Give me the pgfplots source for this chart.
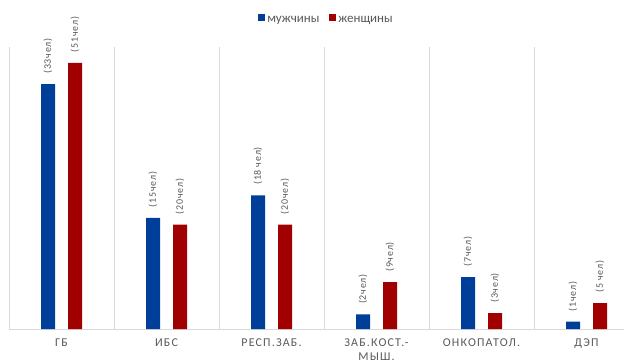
\documentclass[border=0pt]{standalone}
\usepackage{fontspec}
\setmainfont{Carlito}
\newfontfamily\lsfont[LetterSpace=10]{Carlito}
\newfontfamily\lbfont[LetterSpace=8]{Carlito}
\usepackage{pgfplots}
\usepackage{pgfplotstable}
\pgfplotsset{compat=1.18}
\definecolor{cblue}{RGB}{0,63,153}
\definecolor{cred}{RGB}{160,0,0}
\definecolor{ctext}{RGB}{89,89,89}
\definecolor{cgrid}{RGB}{217,217,217}
\pgfplotstableread[col sep=comma]{
x,y,lab
0,43.4,(33чел)
1,19.7,(15чел)
2,23.7,(18 чел)
3,2.6,(2чел)
4,9.2,(7чел)
5,1.3,(1чел)
}\men
\pgfplotstableread[col sep=comma]{
x,y,lab
0,47.2,(51чел)
1,18.5,(20чел)
2,18.5,(20чел)
3,8.3,(9чел)
4,2.8,(3чел)
5,4.6,(5 чел)
}\women
\begin{document}
\begin{tikzpicture}
\useasboundingbox (-9bp,-34bp) rectangle (615bp,329bp);
\begin{axis}[
  anchor=south west, at={(0,0)},
  scale only axis, width=615bp, height=282bp,
  xmin=-0.5, xmax=5.357, ymin=0, ymax=50,
  axis x line*=bottom, axis y line=none,
  x axis line style={draw=cgrid, line width=0.8pt},
  xtick={0,1,2,3,4,5},
  xticklabels={ГБ,ИБС,РЕСП.ЗАБ.,ЗАБ.КОСТ.-\\МЫШ.,ОНКОПАТОЛ.,ДЭП},
  xticklabel style={font=\lsfont\fontsize{12}{14}\selectfont, text=ctext, align=center, anchor=north, yshift=-6bp},
  major tick length=0pt, minor tick length=0pt,
  minor xtick={-0.5,0.5,1.5,2.5,3.5,4.5},
  xminorgrids, minor grid style={draw=cgrid, line width=0.8pt},
  ytick=\empty,
  ybar, bar width=14bp,
  point meta=explicit symbolic,
  nodes near coords,
  every node near coord/.append style={rotate=90, anchor=west, font=\lbfont\fontsize{10}{12}\selectfont, text=ctext, xshift=7bp},
  legend columns=2,
  legend style={draw=none, at={(0.5,1)}, anchor=south, xshift=10bp, yshift=19bp, font=\fontsize{13}{15}\selectfont, text=ctext, /tikz/every even column/.append style={column sep=8bp}},
  legend image code/.code={\fill[#1] (0bp,-1bp) rectangle (7bp,6bp);},
]
\addplot[fill=cblue, draw=none, bar shift=-13.5bp] table[x=x, y=y, meta=lab] {\men};
\addlegendentry{мужчины}
\addplot[fill=cred, draw=none, bar shift=13.5bp] table[x=x, y=y, meta=lab] {\women};
\addlegendentry{женщины}
\end{axis}
\end{tikzpicture}
\end{document}
